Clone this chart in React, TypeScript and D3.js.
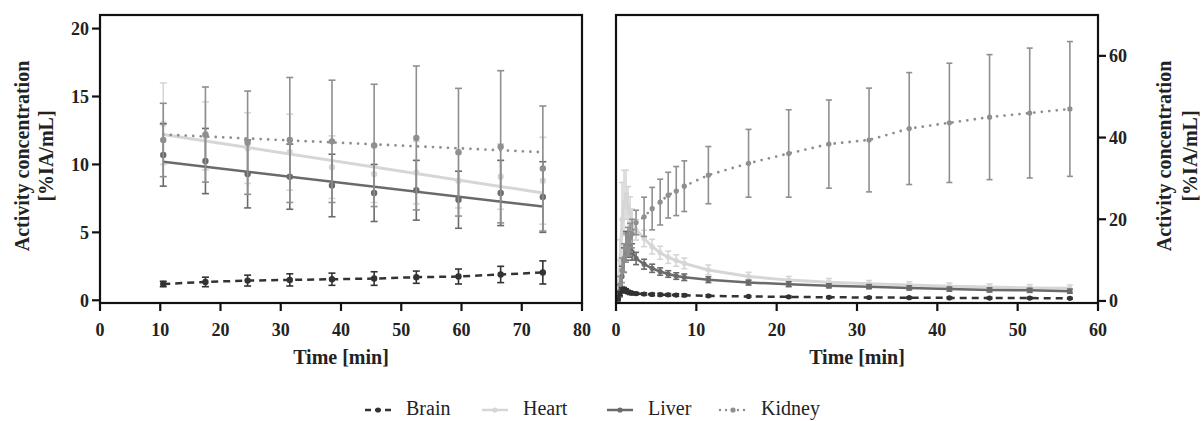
import React from "react";
import * as d3 from "d3";

// ---------- Data ----------
const seriesNames = ["Brain", "Heart", "Liver", "Kidney"];

// Left panel (late frames)
const tL = [10.5, 17.5, 24.5, 31.5, 38.5, 45.5, 52.5, 59.5, 66.5, 73.5];
const brainL = [1.2, 1.35, 1.45, 1.5, 1.55, 1.6, 1.7, 1.75, 1.9, 2.05];
const brainLErr = [0.2, 0.35, 0.4, 0.45, 0.45, 0.5, 0.45, 0.55, 0.6, 0.85];
const heartL = [13.0, 12.1, 11.2, 10.9, 9.8, 9.3, 9.4, 8.8, 9.1, 8.8];
const heartLErr = [3.0, 2.5, 2.6, 2.8, 2.3, 2.1, 2.3, 2.0, 2.4, 3.2];
const liverL = [10.7, 10.25, 9.3, 9.1, 8.45, 7.9, 8.1, 7.4, 7.9, 7.6];
const liverLErr = [2.3, 2.4, 2.5, 2.4, 2.3, 2.1, 2.2, 2.1, 2.4, 2.6];
const kidneyL = [11.8, 12.2, 11.6, 11.8, 11.7, 11.4, 11.95, 10.9, 11.3, 9.7];
const kidneyLErr = [2.7, 3.5, 3.8, 4.6, 4.5, 4.5, 5.3, 4.7, 5.6, 4.6];
// Linear fit endpoints (at first and last time point)
const heartFit = [12.2, 7.9];
const liverFit = [10.2, 6.9];
const kidneyFit = [12.2, 10.9];

// Right panel (dynamic frames)
const tR = [0.25, 0.5, 0.75, 1, 1.25, 1.5, 1.75, 2, 2.5, 3.5, 4.5, 5.5, 6.5, 7.5, 8.5, 11.5, 16.5, 21.5, 26.5, 31.5, 36.5, 41.5, 46.5, 51.5, 56.5];
const brainR = [0.5, 1.8, 2.6, 2.7, 2.5, 2.2, 2.0, 1.9, 1.8, 1.7, 1.6, 1.55, 1.5, 1.45, 1.4, 1.25, 1.1, 1.0, 0.9, 0.85, 0.8, 0.75, 0.7, 0.7, 0.65];
const brainRErr = [0.2, 0.5, 0.6, 0.6, 0.5, 0.4, 0.4, 0.3, 0.3, 0.3, 0.3, 0.3, 0.3, 0.3, 0.3, 0.25, 0.2, 0.2, 0.2, 0.2, 0.2, 0.2, 0.2, 0.2, 0.2];
const heartR = [2, 10, 20, 24, 26, 23, 21.5, 19.5, 17.4, 15.3, 13.3, 11.8, 10.7, 9.9, 9.2, 7.6, 6.0, 5.1, 4.6, 4.2, 3.9, 3.6, 3.4, 3.2, 3.1];
const heartRErr = [2, 5, 9, 8, 6, 5, 4, 3, 2.5, 2, 1.8, 1.6, 1.5, 1.4, 1.3, 1.2, 1.0, 0.9, 0.9, 0.8, 0.8, 0.8, 0.8, 0.8, 0.8];
const liverR = [0.5, 2.5, 6, 10, 13.5, 14, 13.2, 12.0, 10.4, 9.0, 8.0, 7.2, 6.6, 6.1, 5.8, 5.2, 4.5, 4.1, 3.7, 3.5, 3.2, 2.9, 2.7, 2.6, 2.4];
const liverRErr = [0.5, 1.5, 2.5, 3, 3.5, 3, 2.5, 2, 1.5, 1.2, 1, 0.9, 0.8, 0.8, 0.8, 0.7, 0.6, 0.6, 0.5, 0.5, 0.5, 0.5, 0.5, 0.5, 0.5];
const kidneyR = [1.5, 4, 7.5, 10.5, 13, 14.5, 15.5, 16.5, 19.2, 20.6, 22.6, 24.2, 25.9, 26.9, 28.1, 30.8, 33.7, 36.1, 38.4, 39.4, 42.2, 43.6, 45.0, 46.0, 47.0];
const kidneyRErr = [1, 2, 3, 3.5, 3.5, 3.5, 3.5, 3.5, 3, 4.8, 5.2, 5.6, 5.6, 6, 6.2, 7.0, 8.3, 10.7, 10.8, 12.7, 13.7, 14.6, 15.3, 15.9, 16.5];

const xTicksL = [0, 10, 20, 30, 40, 50, 60, 70, 80];
const yTicksL = [0, 5, 10, 15, 20];
const xTicksR = [0, 10, 20, 30, 40, 50, 60];
const yTicksR = [0, 20, 40, 60];

const yTitle1 = "Activity concentration";
const yTitle2 = "[%IA/mL]";
const xTitle = "Time [min]";

// ---------- Styles ----------
const FONT = "'Liberation Serif', 'Times New Roman', serif";
const COL = {
  Brain: "#333333",
  Heart: "#d6d6d6",
  Liver: "#6a6a6a",
  Kidney: "#8f8f8f",
};
const DASH = {
  Brain: "7 5",
  Heart: null,
  Liver: null,
  Kidney: "0 7.5",
};

type S = { name: string; t: number[]; v: number[]; e: number[] };

function ErrorBars({ s, x, y, cap, r, w }: { s: S; x: any; y: any; cap: number; r: number; w: number }) {
  const c = (COL as any)[s.name];
  return (
    <g>
      {s.t.map((t, i) => {
        const cx = x(t);
        const y1 = y(s.v[i] + s.e[i]);
        const y0 = y(Math.max(s.v[i] - s.e[i], -0.1));
        return (
          <g key={i}>
            <line x1={cx} x2={cx} y1={y0} y2={y1} stroke={c} strokeWidth={w} />
            <line x1={cx - cap} x2={cx + cap} y1={y1} y2={y1} stroke={c} strokeWidth={w} />
            <line x1={cx - cap} x2={cx + cap} y1={y0} y2={y0} stroke={c} strokeWidth={w} />
            <circle cx={cx} cy={y(s.v[i])} r={r} fill={c} />
          </g>
        );
      })}
    </g>
  );
}

function Panel({ side }: { side: "L" | "R" }) {
  const isL = side === "L";
  const x0 = isL ? 100 : 616;
  const x1 = isL ? 582 : 1098;
  const top = 15;
  const bottom = 303;
  const x = d3.scaleLinear().domain(isL ? [0, 80] : [0, 60]).range([x0, x1]);
  const y = d3.scaleLinear().domain(isL ? [-0.2, 21] : [-0.5, 70]).range([bottom, top]);
  const xTicks = isL ? xTicksL : xTicksR;
  const yTicks = isL ? yTicksL : yTicksR;

  const series: S[] = isL
    ? [
        { name: "Heart", t: tL, v: heartL, e: heartLErr },
        { name: "Liver", t: tL, v: liverL, e: liverLErr },
        { name: "Kidney", t: tL, v: kidneyL, e: kidneyLErr },
        { name: "Brain", t: tL, v: brainL, e: brainLErr },
      ]
    : [
        { name: "Heart", t: tR, v: heartR, e: heartRErr },
        { name: "Liver", t: tR, v: liverR, e: liverRErr },
        { name: "Kidney", t: tR, v: kidneyR, e: kidneyRErr },
        { name: "Brain", t: tR, v: brainR, e: brainRErr },
      ];

  const fits: Record<string, number[]> = { Heart: heartFit, Liver: liverFit, Kidney: kidneyFit };
  const lineGen = d3
    .line<[number, number]>()
    .x((d) => x(d[0]))
    .y((d) => y(d[1]));

  const pathFor = (s: S) => {
    if (isL && fits[s.name]) {
      const f = fits[s.name];
      return lineGen([
        [s.t[0], f[0]],
        [s.t[s.t.length - 1], f[1]],
      ]);
    }
    return lineGen(s.t.map((t, i) => [t, s.v[i]] as [number, number]));
  };

  const lw: Record<string, number> = { Brain: 2.5, Heart: 3, Liver: 2.5, Kidney: 2.8 };
  const r = isL ? 3.2 : 2.6;
  const cap = isL ? 3.5 : 3;

  const yAxisX = isL ? x0 : x1;
  const dir = isL ? -1 : 1;
  const titleX1 = isL ? 22 : 1164;
  const titleX2 = isL ? 46 : 1190;
  const titleCY = 156;

  return (
    <g>
      {series.map((s) => (
        <g key={s.name}>
          <ErrorBars s={s} x={x} y={y} cap={cap} r={r} w={1.6} />
          <path
            d={pathFor(s) || ""}
            fill="none"
            stroke={(COL as any)[s.name]}
            strokeWidth={lw[s.name]}
            strokeDasharray={(DASH as any)[s.name] || undefined}
            strokeLinecap={s.name === "Kidney" ? "round" : "butt"}
          />
        </g>
      ))}
      <rect x={x0} y={top} width={x1 - x0} height={bottom - top} fill="none" stroke="#111" strokeWidth={2.2} />
      {xTicks.map((t) => (
        <g key={"x" + t}>
          <line x1={x(t)} x2={x(t)} y1={bottom} y2={bottom + 8} stroke="#111" strokeWidth={2.2} />
          <text x={x(t)} y={336} textAnchor="middle" fontFamily={FONT} fontWeight="bold" fontSize={18} fill="#222">
            {t}
          </text>
        </g>
      ))}
      {yTicks.map((t) => (
        <g key={"y" + t}>
          <line x1={yAxisX} x2={yAxisX + dir * 8} y1={y(t)} y2={y(t)} stroke="#111" strokeWidth={2.2} />
          <text
            x={yAxisX + dir * 11}
            y={y(t)}
            dy="0.35em"
            textAnchor={isL ? "end" : "start"}
            fontFamily={FONT}
            fontWeight="bold"
            fontSize={18}
            fill="#222"
          >
            {t}
          </text>
        </g>
      ))}
      <text x={(x0 + x1) / 2} y={364} textAnchor="middle" fontFamily={FONT} fontWeight="bold" fontSize={20} fill="#222">
        {xTitle}
      </text>
      <text
        transform={`translate(${titleX1},${titleCY}) rotate(-90)`}
        textAnchor="middle"
        dy="0.35em"
        fontFamily={FONT}
        fontWeight="bold"
        fontSize={20}
        fill="#222"
      >
        {yTitle1}
      </text>
      <text
        transform={`translate(${titleX2},${titleCY}) rotate(-90)`}
        textAnchor="middle"
        dy="0.35em"
        fontFamily={FONT}
        fontWeight="bold"
        fontSize={20}
        fill="#222"
      >
        {yTitle2}
      </text>
    </g>
  );
}

function Legend() {
  const starts = [365, 482, 607, 720];
  const yy = 410;
  return (
    <g>
      {seriesNames.map((n, i) => {
        const sx = starts[i];
        const c = (COL as any)[n];
        return (
          <g key={n}>
            <line
              x1={sx}
              x2={sx + 26}
              y1={yy}
              y2={yy}
              stroke={c}
              strokeWidth={2.5}
              strokeDasharray={n === "Brain" ? "6 4" : n === "Kidney" ? "0 6" : undefined}
              strokeLinecap={n === "Kidney" ? "round" : "butt"}
            />
            <circle cx={sx + 13} cy={yy} r={2.6} fill={c} />
            <text x={sx + 41} y={415} fontFamily={FONT} fontSize={20} fill="#222">
              {n}
            </text>
          </g>
        );
      })}
    </g>
  );
}

export default function App() {
  return (
    <div style={{ position: "absolute", left: 0, top: 0 }}>
      <svg width={1204} height={421} style={{ display: "block", background: "#fff" }}>
        <Panel side="L" />
        <Panel side="R" />
        <Legend />
      </svg>
    </div>
  );
}
